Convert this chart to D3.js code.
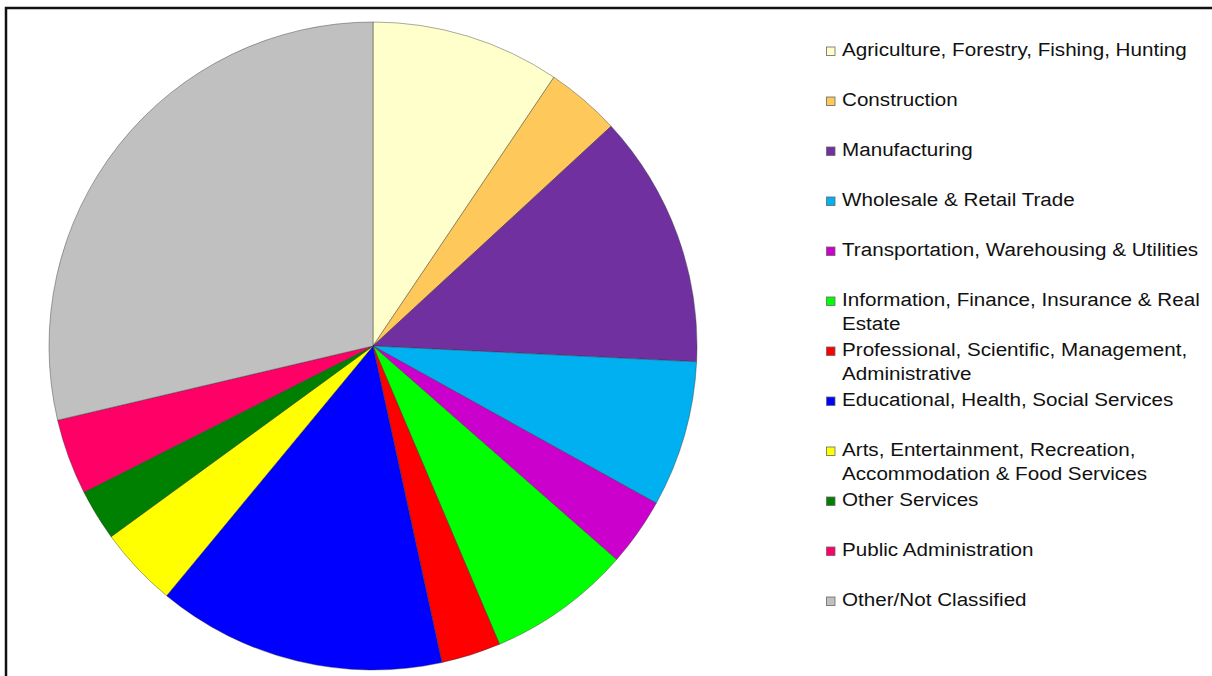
<!DOCTYPE html>
<html>
<head>
<meta charset="utf-8">
<script src="https://cdn.jsdelivr.net/npm/d3@7"></script>
<style>
  html, body { margin: 0; padding: 0; background: #fff; }
  svg { display: block; }
  text { font-family: "Liberation Sans", Arial, sans-serif; fill: #111; }
</style>
</head>
<body>
<svg id="chart" width="1212" height="676"></svg>
<script>
// Employment by industry, share of total (%)
const categories = [
  "Agriculture, Forestry, Fishing, Hunting",
  "Construction",
  "Manufacturing",
  "Wholesale & Retail Trade",
  "Transportation, Warehousing & Utilities",
  "Information, Finance, Insurance & Real Estate",
  "Professional, Scientific, Management, Administrative",
  "Educational, Health, Social Services",
  "Arts, Entertainment, Recreation, Accommodation & Food Services",
  "Other Services",
  "Public Administration",
  "Other/Not Classified"
];
const shares = [9.43, 3.71, 12.64, 7.29, 3.39, 7.16, 2.97, 14.41, 3.99, 2.56, 3.78, 28.68];
const colors = [
  "#FFFFCC", "#FFC85A", "#7030A0", "#00B0F0", "#CC00CC", "#00FF00",
  "#FF0000", "#0000FF", "#FFFF00", "#008000", "#FF0066", "#C0C0C0"
];

const svg = d3.select("#chart");

// outer frame
svg.append("rect")
  .attr("x", 6).attr("y", 8)
  .attr("width", 1400).attr("height", 900)
  .attr("fill", "none").attr("stroke", "#111").attr("stroke-width", 2.5);

const cx = 373, cy = 346, radius = 324;

const data = categories.map((c, i) => ({ name: c, value: shares[i], color: colors[i] }));

const pie = d3.pie().value(d => d.value).sort(null);
const arc = d3.arc().innerRadius(0).outerRadius(radius);

svg.append("g")
  .attr("transform", `translate(${cx},${cy})`)
  .selectAll("path")
  .data(pie(data))
  .join("path")
  .attr("d", arc)
  .attr("fill", d => d.data.color)
  .attr("stroke", "#333")
  .attr("stroke-width", 0.7)
  .attr("stroke-opacity", 0.6);

// legend
const legend = svg.append("g").attr("transform", "translate(826,0)");
const rowY = d3.scaleLinear().domain([0, 1]).range([56, 106]);
const maxTextWidth = 340;
const lineHeight = 24;
const textStretch = 1.086;

data.forEach((d, i) => {
  const y = rowY(i);
  const g = legend.append("g");
  g.append("rect")
    .attr("x", 0.5).attr("y", y - 9)
    .attr("width", 8.5).attr("height", 8.5)
    .attr("fill", d.color)
    .attr("stroke", "#666").attr("stroke-width", 0.8);
  const t = g.append("g")
    .attr("transform", `translate(16,0) scale(${textStretch},1)`)
    .append("text")
    .attr("x", 0).attr("y", y)
    .attr("font-size", 19);
  // wrap words to the legend column width
  const words = d.name.split(" ");
  let line = [];
  let tspan = t.append("tspan").attr("x", 0).attr("y", y);
  let lineNo = 0;
  words.forEach(w => {
    line.push(w);
    tspan.text(line.join(" "));
    if (tspan.node().getComputedTextLength() > maxTextWidth && line.length > 1) {
      line.pop();
      tspan.text(line.join(" "));
      line = [w];
      lineNo++;
      tspan = t.append("tspan").attr("x", 0).attr("y", y + lineNo * lineHeight).text(w);
    }
  });
});
</script>
</body>
</html>
